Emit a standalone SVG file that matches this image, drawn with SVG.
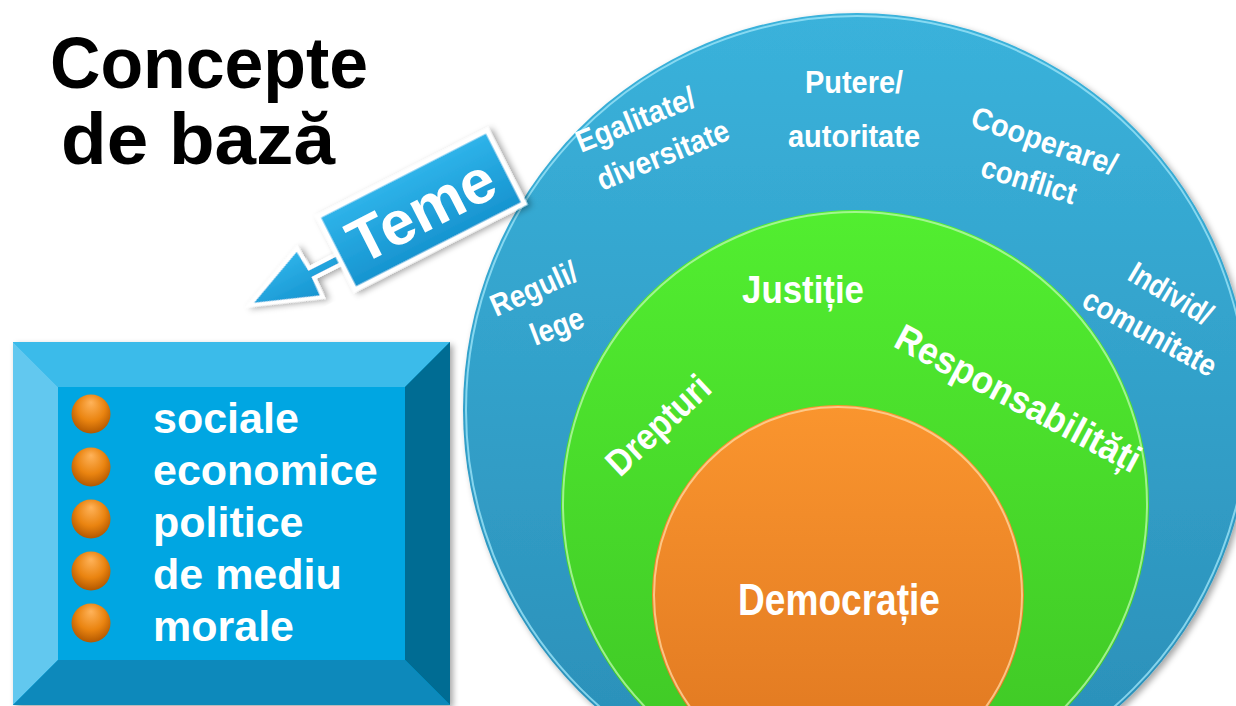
<svg xmlns="http://www.w3.org/2000/svg" width="1236" height="706" viewBox="0 0 1236 706">
<defs>
<style>
.t{font-family:"Liberation Sans",Arial,sans-serif;font-weight:bold;fill:#fff}
.title{font-family:"Liberation Sans",Arial,sans-serif;font-weight:bold;fill:#000;font-size:72px}
.lbl{font-size:31px}
.item{font-size:43px}
</style>
<linearGradient id="gBlue" x1="0" y1="0" x2="0" y2="1">
<stop offset="0" stop-color="#3ab2db"/><stop offset="1" stop-color="#2a8db6"/>
</linearGradient>
<linearGradient id="gGreen" x1="0" y1="0" x2="0" y2="1">
<stop offset="0" stop-color="#52ee30"/><stop offset="1" stop-color="#3ec525"/>
</linearGradient>
<linearGradient id="gOrange" x1="0" y1="0" x2="0" y2="1">
<stop offset="0" stop-color="#fa952e"/><stop offset="1" stop-color="#de7620"/>
</linearGradient>
<linearGradient id="gTeme" x1="0" y1="0" x2="0" y2="1">
<stop offset="0" stop-color="#2fb4ea"/><stop offset="1" stop-color="#1693cf"/>
</linearGradient>
<radialGradient id="gBullet" cx="0.5" cy="0.4" r="0.6" fx="0.5" fy="0.2">
<stop offset="0" stop-color="#ffb35a"/><stop offset="0.6" stop-color="#ea8410"/><stop offset="1" stop-color="#b35800"/>
</radialGradient>
<filter id="sh" x="-10%" y="-10%" width="125%" height="125%">
<feDropShadow dx="3" dy="3" stdDeviation="3" flood-color="#000" flood-opacity="0.35"/>
</filter>
</defs>
<rect width="1236" height="706" fill="#fff"/>

<g id="title">
<text class="title" x="50" y="88" textLength="318" lengthAdjust="spacingAndGlyphs">Concepte</text>
<text class="title" x="61" y="164" textLength="274" lengthAdjust="spacingAndGlyphs">de bază</text>
</g>

<g id="outer-circle">
<ellipse cx="857" cy="410" rx="394" ry="397" fill="url(#gBlue)" filter="url(#sh)"/>
<ellipse cx="857" cy="410" rx="391" ry="394" fill="none" stroke="#9be4f7" stroke-width="2" opacity="0.8"/>
<g class="t lbl">
<text transform="translate(581,153) rotate(-22)" textLength="126" lengthAdjust="spacingAndGlyphs">Egalitate/</text>
<text transform="translate(602,191) rotate(-22)" textLength="140" lengthAdjust="spacingAndGlyphs">diversitate</text>
<text x="805" y="93" textLength="98" lengthAdjust="spacingAndGlyphs">Putere/</text>
<text x="788" y="147" textLength="132" lengthAdjust="spacingAndGlyphs">autoritate</text>
<text transform="translate(969,126) rotate(19)" textLength="152" lengthAdjust="spacingAndGlyphs">Cooperare/</text>
<text transform="translate(979,176) rotate(17)" textLength="98" lengthAdjust="spacingAndGlyphs">conflict</text>
<text transform="translate(1126,279) rotate(31)" textLength="92" lengthAdjust="spacingAndGlyphs">Individ/</text>
<text transform="translate(1080,306) rotate(29)" textLength="148" lengthAdjust="spacingAndGlyphs">comunitate</text>
<text transform="translate(496,317) rotate(-24)" textLength="92" lengthAdjust="spacingAndGlyphs">Reguli/</text>
<text transform="translate(535,346) rotate(-21)" textLength="55" lengthAdjust="spacingAndGlyphs">lege</text>
</g>
</g>

<g id="middle-circle">
<circle cx="855" cy="504" r="294" fill="url(#gGreen)"/>
<circle cx="855" cy="504" r="292" fill="none" stroke="#b6f7a6" stroke-width="2" opacity="0.8"/>
<g class="t">
<text x="742" y="303" font-size="39" textLength="122" lengthAdjust="spacingAndGlyphs">Justiție</text>
<text transform="translate(620,478) rotate(-43)" font-size="37" textLength="128" lengthAdjust="spacingAndGlyphs">Drepturi</text>
<text transform="translate(892,346) rotate(28)" font-size="38" textLength="272" lengthAdjust="spacingAndGlyphs">Responsabilități</text>
</g>
</g>

<g id="inner-circle">
<ellipse cx="838" cy="595" rx="186" ry="190" fill="url(#gOrange)"/>
<ellipse cx="838" cy="595" rx="184" ry="188" fill="none" stroke="#ffd59c" stroke-width="2" opacity="0.8"/>
<text class="t" x="738" y="615" font-size="45" textLength="202" lengthAdjust="spacingAndGlyphs">Democrație</text>
</g>

<g id="box" filter="url(#sh)">
<rect x="13" y="342" width="437" height="363" fill="#00a6e2"/>
<polygon points="13,342 450,342 405,387 58,387" fill="#3abbea"/>
<polygon points="13,342 58,387 58,660 13,705" fill="#62c8ef"/>
<polygon points="450,342 450,705 405,660 405,387" fill="#016c93"/>
<polygon points="13,705 58,660 405,660 450,705" fill="#0789bb"/>
<rect x="58" y="387" width="347" height="273" fill="#00a6e2"/>
</g>
<g id="items">
<circle cx="91" cy="414" r="19.5" fill="url(#gBullet)"/>
<circle cx="91" cy="467" r="19.5" fill="url(#gBullet)"/>
<circle cx="91" cy="519" r="19.5" fill="url(#gBullet)"/>
<circle cx="91" cy="571" r="19.5" fill="url(#gBullet)"/>
<circle cx="91" cy="623" r="19.5" fill="url(#gBullet)"/>
<g class="t item">
<text x="153" y="433">sociale</text>
<text x="153" y="485">economice</text>
<text x="153" y="537">politice</text>
<text x="153" y="589">de mediu</text>
<text x="153" y="641">morale</text>
</g>
</g>

<g id="connectors">
<g transform="translate(421,210) rotate(-27)" filter="url(#sh)">
<polygon points="-94,1 -126,1 -128,-22 -196,7 -127,33 -126,12 -94,12" fill="url(#gTeme)" stroke="#fff" stroke-width="4" stroke-linejoin="miter"/>
</g>
</g>

<g id="teme">
<g transform="translate(421,210) rotate(-27)">
<rect x="-95" y="-41" width="190" height="82" fill="url(#gTeme)" stroke="#fff" stroke-width="5" filter="url(#sh)"/>
<text class="t" x="0" y="22" font-size="62" text-anchor="middle">Teme</text>
</g>
</g>
</svg>
